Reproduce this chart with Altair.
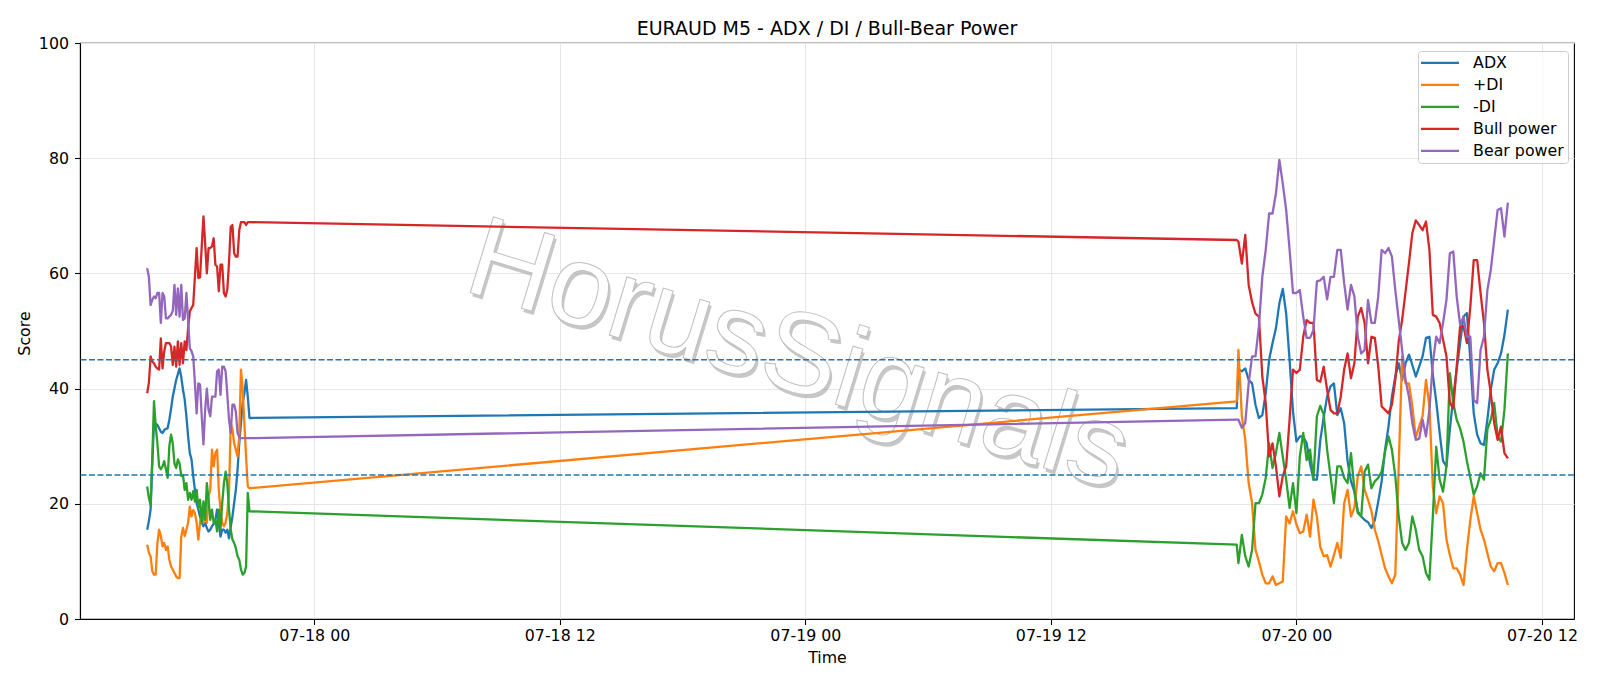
import altair as alt
import pandas as pd

SERIES = ["ADX", "+DI", "-DI", "Bull power", "Bear power"]
COLORS = ["#1f77b4", "#ff7f0e", "#2ca02c", "#d62728", "#9467bd"]

# segment 1: 07-17 15:50 .. 20:50, 5-minute bars
seg1_start = "2025-07-17 15:50"
# segment 2: first bar 07-19 21:05, then every 10 minutes from 21:10 to 07-20 10:20
seg2_first = "2025-07-19 21:05"
seg2_start = "2025-07-19 21:10"

adx_s1 = [15.5, 17.0, 19.0, 27.0, 34.0, 33.9, 33.7, 33.1, 32.5, 32.3,
          32.8, 33.0, 33.1, 34.6, 36.5, 38.6, 40.0, 41.5, 42.5, 43.5,
          42.0, 39.8, 38.1, 35.2, 31.7, 28.8, 27.7, 24.8, 22.4, 20.1,
          19.0, 17.8, 16.7, 16.1, 16.7, 15.8, 15.2, 15.5, 16.1, 16.5,
          17.2, 19.0, 16.5, 14.3, 15.5, 15.5, 15.0, 15.5, 14.0, 16.0,
          17.8, 20.1, 22.4, 25.9, 30.5, 34.0, 37.5, 39.2, 41.5, 38.6, 34.9]
adx_s2 = [36.6,
          43.3, 43.0, 43.5, 41.5, 40.9, 37.2, 34.9, 35.4, 39.2, 45.0,
          47.9, 50.5, 54.8, 57.3, 53.0, 45.0, 36.0, 30.8, 31.7, 31.7,
          30.5, 27.0, 24.2, 24.2, 31.0, 35.0, 38.6, 40.4, 40.9, 35.4,
          36.6, 34.0, 27.4, 23.9, 22.1, 18.7, 17.8, 17.2, 16.8, 15.8,
          17.2, 20.4, 23.9, 29.4, 33.4, 38.6, 42.1, 44.4, 41.5, 44.4,
          45.9, 44.1, 42.1, 43.8, 45.6, 48.8, 49.0, 42.4, 37.8, 32.3,
          27.4, 26.5, 32.9, 38.6, 43.3, 47.9, 52.5, 53.1, 45.0, 35.7,
          32.0, 30.5, 30.2, 34.6, 39.8, 43.3, 44.4, 46.1, 49.3, 53.7]

pdi_s1 = [12.9, 11.5, 10.9, 8.3, 7.7, 7.7, 13.2, 15.5, 14.4, 12.6,
          13.2, 12.0, 12.6, 10.3, 9.1, 8.6, 8.0, 7.4, 7.1, 7.1,
          14.3, 15.8, 14.4, 15.5, 16.7, 19.5, 17.8, 18.9, 18.4, 16.7,
          13.8, 16.7, 18.4, 16.7, 19.0, 16.7, 21.3, 22.4, 29.4, 26.5,
          28.8, 29.4, 22.4, 19.0, 16.7, 16.1, 16.7, 18.4, 21.9, 34.0,
          32.9, 30.5, 29.4, 28.2, 31.7, 43.3, 39.8, 34.0, 28.2, 23.0, 22.7]
pdi_s2 = [37.8,
          46.7, 35.2, 31.1, 23.6, 20.1, 12.0, 10.0, 7.7, 6.2, 6.2,
          7.4, 5.9, 6.2, 6.5, 17.8, 16.6, 18.7, 16.4, 14.9, 15.2,
          18.1, 14.3, 20.7, 17.8, 12.5, 10.9, 11.1, 9.1, 11.1, 13.2,
          10.6, 20.1, 22.4, 17.8, 19.3, 24.8, 26.5, 22.4, 20.7, 18.7,
          15.5, 13.5, 11.1, 8.8, 7.4, 6.2, 7.7, 26.5, 45.6, 40.9,
          40.9, 36.9, 31.5, 33.4, 35.2, 41.5, 36.9, 23.0, 18.4, 21.3,
          20.1, 13.8, 11.1, 8.8, 8.8, 7.7, 5.9, 12.0, 17.2, 21.3,
          18.4, 15.5, 13.8, 11.4, 9.1, 8.3, 9.7, 9.7, 8.0, 5.9]

mdi_s1 = [23.0, 21.0, 19.8, 28.0, 37.8, 33.5, 30.5, 26.5, 26.0, 26.5,
          27.4, 26.0, 24.5, 30.0, 32.0, 30.5, 27.0, 26.2, 27.7, 27.0,
          24.8, 25.0, 22.4, 23.6, 20.7, 21.9, 20.7, 22.2, 20.4, 22.4,
          19.3, 20.7, 16.7, 20.4, 17.2, 23.6, 20.7, 17.2, 19.0, 16.7,
          17.2, 15.2, 19.0, 15.5, 20.1, 23.6, 25.6, 23.6, 19.0, 15.5,
          13.8, 13.2, 12.3, 10.9, 10.3, 8.6, 7.7, 8.0, 9.1, 21.9, 18.7]
mdi_s2 = [12.9,
          9.7, 14.6, 10.9, 9.1, 12.0, 20.1, 20.1, 21.6, 24.5, 30.5,
          26.2, 28.8, 32.3, 28.2, 24.2, 19.3, 23.6, 18.4, 28.2, 32.3,
          27.6, 29.4, 24.2, 35.2, 37.0, 35.5, 29.4, 24.8, 20.1, 26.5,
          26.5, 24.5, 23.6, 28.8, 22.4, 18.4, 17.8, 25.6, 26.8, 22.7,
          23.9, 24.5, 25.6, 29.1, 31.7, 29.4, 24.8, 17.8, 13.2, 12.0,
          13.2, 17.8, 15.5, 12.0, 10.9, 8.0, 6.8, 17.8, 29.9, 24.2,
          22.1, 26.5, 42.7, 37.5, 34.6, 33.1, 30.8, 27.4, 24.5, 21.6,
          23.0, 25.3, 24.2, 32.9, 34.6, 37.5, 31.7, 30.8, 36.3, 46.1]

bull_s1 = [39.2, 41.0, 45.6, 44.7, 44.4, 43.8, 43.5, 43.3, 48.7, 43.5,
           46.5, 47.9, 47.9, 47.9, 47.3, 44.1, 47.3, 43.8, 48.2, 44.1,
           47.9, 44.4, 48.2, 46.7, 50.5, 53.4, 54.0, 54.5, 59.5, 64.4,
           59.2, 59.3, 64.7, 69.9, 65.2, 60.0, 64.4, 64.4, 64.7, 66.1,
           61.5, 61.2, 56.9, 61.5, 61.5, 56.6, 56.0, 57.2, 62.0, 68.1,
           68.4, 63.5, 62.9, 62.9, 67.5, 68.9, 68.9, 68.9, 68.4, 68.9, 68.9]
bull_s2 = [65.8,
           65.5, 61.7, 66.7, 58.0, 55.0, 53.0, 52.5, 42.1, 37.5, 28.2,
           30.5, 26.5, 21.3, 24.8, 26.5, 34.6, 43.3, 42.7, 43.3, 49.0,
           51.9, 51.4, 51.4, 41.5, 41.2, 43.8, 39.8, 36.3, 35.7, 35.7,
           38.6, 43.3, 46.1, 41.8, 44.4, 52.5, 54.0, 51.4, 44.4, 49.0,
           48.8, 43.8, 36.9, 36.3, 35.7, 37.2, 41.5, 48.2, 51.9, 56.8,
           61.8, 67.0, 69.2, 68.4, 67.5, 69.0, 64.1, 52.8, 52.5, 51.4,
           48.5, 45.6, 37.5, 36.6, 43.8, 50.8, 50.8, 47.9, 54.2, 62.3,
           62.3, 56.6, 51.4, 43.3, 39.2, 34.0, 31.1, 33.4, 28.8, 27.9]

bear_s1 = [60.9, 59.4, 54.5, 55.4, 56.0, 55.7, 56.6, 56.6, 51.4, 56.6,
           56.0, 52.2, 52.2, 52.5, 52.8, 53.5, 58.0, 52.8, 57.4, 52.5,
           58.0, 51.9, 52.2, 56.6, 51.9, 47.0, 46.5, 45.6, 40.9, 35.7,
           40.9, 40.7, 35.2, 30.3, 36.3, 40.0, 36.3, 35.2, 38.6, 38.6,
           38.6, 43.0, 43.3, 38.9, 43.8, 43.8, 43.0, 38.9, 34.6, 32.3,
           37.2, 37.2, 36.0, 32.3, 31.6, 31.4, 31.4, 31.4, 31.4, 31.4, 31.4]
bear_s2 = [34.6,
           34.6, 33.2, 34.0, 40.9, 45.6, 45.6, 50.8, 59.4, 64.1, 70.4,
           70.4, 73.9, 79.7, 75.6, 71.0, 64.1, 56.6, 56.6, 57.1, 52.5,
           48.8, 48.8, 50.2, 58.6, 58.8, 59.4, 55.5, 59.4, 59.4, 64.1,
           64.1, 58.3, 53.7, 58.0, 56.0, 49.0, 46.1, 46.7, 55.4, 51.4,
           51.4, 56.0, 64.1, 63.5, 64.4, 62.9, 57.1, 51.9, 46.7, 41.5,
           38.6, 34.0, 31.1, 31.3, 34.6, 31.7, 36.3, 44.4, 49.0, 47.9,
           51.4, 55.4, 63.5, 63.8, 56.0, 51.1, 52.5, 49.0, 49.0, 38.0,
           37.5, 46.7, 49.0, 57.1, 60.6, 65.8, 71.0, 71.3, 66.4, 72.3]

threshold_levels = [25, 45]

# watermark text, anchored in data coordinates
watermark_text = ["HorusSignals"]
watermark_time = ["2025-07-18 23:40"]
watermark_value = [45.6]

seg1_times = pd.date_range(seg1_start, periods=len(adx_s1), freq="5min")
seg2_times = pd.DatetimeIndex([pd.Timestamp(seg2_first)]).append(
    pd.date_range(seg2_start, periods=len(adx_s2) - 1, freq="10min"))
all_times = list(seg1_times) + list(seg2_times)

values = {
    "ADX": adx_s1 + adx_s2,
    "+DI": pdi_s1 + pdi_s2,
    "-DI": mdi_s1 + mdi_s2,
    "Bull power": bull_s1 + bull_s2,
    "Bear power": bear_s1 + bear_s2,
}

rows = []
for name in SERIES:
    for t, v in zip(all_times, values[name]):
        rows.append({"time": t, "value": v, "series": name})
df = pd.DataFrame(rows)
thr = pd.DataFrame({"level": threshold_levels})
wm = pd.DataFrame({"time": pd.to_datetime(watermark_time), "value": watermark_value,
                   "label": watermark_text})

FONT = "DejaVu Sans"
FS = 15.8

x_enc = alt.X(
    "time:T",
    title="Time",
    scale=alt.Scale(domain=[
        alt.DateTime(year=2025, month=7, date=17, hours=12, minutes=33),
        alt.DateTime(year=2025, month=7, date=20, hours=13, minutes=34),
    ]),
    axis=alt.Axis(
        values=[alt.DateTime(year=2025, month=7, date=d, hours=h)
                for d, h in [(18, 0), (18, 12), (19, 0), (19, 12), (20, 0), (20, 12)]],
        format="%m-%d %H",
        labelFlush=False,
        labelPadding=4,
        titleY=43.7,
        titleBaseline="alphabetic",
    ),
)

y_axis = alt.Axis(
    values=[0, 20, 40, 60, 80, 100],
    labelPadding=6,
    titleX=-50.3,
    titleY=290,
    titleBaseline="alphabetic",
    titleAngle=270,
)

y_scale = alt.Scale(domain=[0, 100], nice=False)
y_enc = alt.Y("value:Q", title="Score", scale=y_scale, axis=y_axis)

color_enc = alt.Color(
    "series:N",
    scale=alt.Scale(domain=SERIES, range=COLORS),
    legend=alt.Legend(
        title=None,
        orient="none",
        legendX=1338,
        legendY=8,
        padding=4,
        rowPadding=5,
        symbolType="M-19,0H19",
        symbolSize=4,
        symbolStrokeWidth=2.3,
        symbolOffset=10.1,
        labelOffset=25.2,
        labelAlign="left",
        labelFontSize=FS,
        labelFont=FONT,
        labelColor="black",
        fillColor="rgba(255,255,255,0.8)",
        strokeColor="#cccccc",
        cornerRadius=3,
    ),
)

WM_SIZE = 115
WM_ANGLE = 17

wm_shadow = alt.Chart(wm).mark_text(
    font="Liberation Sans", fontSize=WM_SIZE, angle=WM_ANGLE, align="center", baseline="middle",
    fill="#b0b0b0", opacity=0.7, dx=3, dy=3,
).encode(x=x_enc, y=y_enc, text="label:N")

wm_front = alt.Chart(wm).mark_text(
    font="Liberation Sans", fontSize=WM_SIZE, angle=WM_ANGLE, align="center", baseline="middle",
    fill="white", stroke="#c0c0c0", strokeWidth=1,
).encode(x=x_enc, y=y_enc, text="label:N")

layers = [wm_shadow, wm_front]
for name in SERIES:
    layers.append(
        alt.Chart(df)
        .transform_filter(alt.datum.series == name)
        .mark_line(strokeWidth=2.3, strokeJoin="round")
        .encode(x=x_enc, y=y_enc, color=color_enc)
    )

rules = alt.Chart(thr).mark_rule(color="#1f77b4", strokeDash=[6, 2.5], strokeWidth=1.5).encode(
    y=alt.Y("level:Q", title="Score", scale=y_scale, axis=y_axis)
)

chart = (
    alt.layer(*layers, rules)
    .properties(
        width=1494,
        height=576,
        title=alt.TitleParams(
            "EURAUD M5 - ADX / DI / Bull-Bear Power",
            fontSize=19,
            font=FONT,
            fontWeight="normal",
            color="black",
            anchor="middle",
            offset=0,
            dy=4,
        ),
        autosize=alt.AutoSizeParams(type="none"),
        padding={"left": 80, "top": 43, "right": 26, "bottom": 67},
    )
    .configure(font=FONT, background="white")
    .configure_view(stroke="black", strokeWidth=1.1)
    .configure_axis(
        labelFont=FONT,
        labelFontSize=FS,
        labelColor="black",
        titleFont=FONT,
        titleFontSize=FS,
        titleFontWeight="normal",
        titleColor="black",
        domainColor="black",
        domainWidth=1.1,
        tickColor="black",
        tickSize=5.5,
        tickWidth=1.1,
        grid=True,
        gridColor="#e6e6e6",
        gridWidth=1,
    )
)

chart.save("out.html", embed_options={"renderer": "svg", "actions": False})
